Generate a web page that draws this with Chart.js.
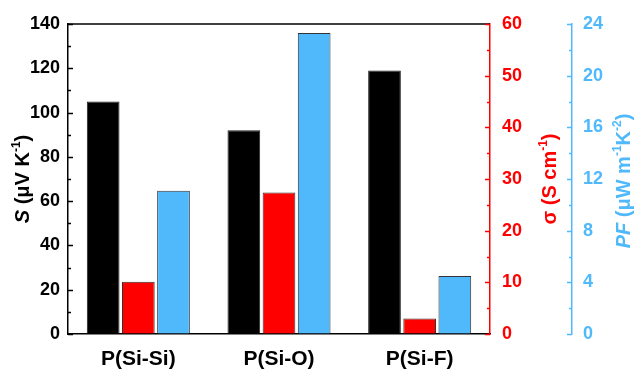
<!DOCTYPE html>
<html>
<head>
<meta charset="utf-8">
<script src="https://cdn.jsdelivr.net/npm/chart.js@4"></script>
<style>
  html, body { margin:0; padding:0; background:#fff; }
  #wrap { width:636px; height:369px; }
</style>
</head>
<body>
<div id="wrap"><canvas id="chart"></canvas></div>
<script>
// data
const polymers = ['P(Si-Si)', 'P(Si-O)', 'P(Si-F)'];
const seebeck = [105, 92, 119];          // S (uV/K), left axis
const conductivity = [10.1, 27.4, 3.0];  // sigma (S/cm), red axis
const powerFactor = [11.1, 23.3, 4.5];   // PF (uW m-1 K-2), blue axis

const sRange = [0, 140, 20];
const sigmaRange = [0, 60, 10];
const pfRange = [0, 24, 4];

const RED = '#ff0000';
const BLUE = '#4fb9fc';
const FONT = "'Liberation Sans', Arial, sans-serif";

// inward ticks, top frame line, rotated titles with superscripts
const decor = {
  id: 'decor',
  afterDraw(chart){
    const c = chart.ctx, a = chart.chartArea;
    const s = chart.scales;
    c.save();
    c.strokeStyle = '#000'; c.lineWidth = 1.5;
    c.beginPath(); c.moveTo(a.left, a.top); c.lineTo(a.right, a.top); c.stroke();

    function ticks(scale, x, dir, range, color){
      c.strokeStyle = color; c.lineWidth = 1.5;
      const half = range[2] / 2;
      for(let v = range[0]; v <= range[1] + 1e-9; v += half){
        const y = Math.round(scale.getPixelForValue(v)) + 0.5;
        const major = Math.abs((v / range[2]) - Math.round(v / range[2])) < 1e-6;
        const len = major ? 5 : 3;
        c.beginPath(); c.moveTo(x, y); c.lineTo(x + dir * len, y); c.stroke();
      }
    }
    ticks(s.y, a.left, 1, sRange, '#000');
    ticks(s.y1, a.right, -1, sigmaRange, RED);
    ticks(s.y2, s.y2.left, -1, pfRange, BLUE);

    function title(cx, cy, parts, color){
      c.save();
      c.translate(cx, cy);
      c.rotate(-Math.PI / 2);
      c.fillStyle = color;
      c.textBaseline = 'middle';
      let w = 0;
      parts.forEach(p => { c.font = p.f; w += c.measureText(p.t).width; });
      let x = -w / 2;
      parts.forEach(p => {
        c.font = p.f;
        c.fillText(p.t, x, p.sup ? -6 : 0);
        x += c.measureText(p.t).width;
      });
      c.restore();
    }
    const B = 'bold 20px ' + FONT, BI = 'italic bold 20px ' + FONT, SUP = 'bold 12px ' + FONT;
    const midY = (a.top + a.bottom) / 2;
    title(s.y.left + 23, midY, [
      {t:'S', f:BI}, {t:' (μV K', f:B}, {t:'-1', f:SUP, sup:true}, {t:')', f:B}
    ], '#000');
    title(s.y1.right - 22, midY, [
      {t:'σ', f:B}, {t:' (S cm', f:B}, {t:'-1', f:SUP, sup:true}, {t:')', f:B}
    ], RED);
    title(s.y2.right - 12, midY + 2, [
      {t:'PF', f:BI}, {t:' (μW m', f:B}, {t:'-1', f:SUP, sup:true}, {t:'K', f:B},
      {t:'-2', f:SUP, sup:true}, {t:')', f:B}
    ], BLUE);
    c.restore();
  }
};

function yAxis(range, position, color, width, pad){
  return {
    position: position,
    min: range[0], max: range[1],
    ticks: { stepSize: range[2], color: color, padding: pad,
             font: { family: FONT, size: 18, weight: 'bold' } },
    grid: { drawOnChartArea: false, drawTicks: false },
    border: { color: color, width: 1.5 },
    afterFit: sc => { sc.width = width; }
  };
}

const yS = yAxis(sRange, 'left', '#000', 68, 8);
const ySigma = yAxis(sigmaRange, 'right', RED, 82, 12);
const yPF = yAxis(pfRange, 'right', BLUE, 64, 11);

new Chart(document.getElementById('chart'), {
  type: 'bar',
  data: {
    labels: polymers,
    datasets: [
      { label: 'S', data: seebeck, yAxisID: 'y',
        backgroundColor: '#000', borderColor: '#222', borderWidth: 1 },
      { label: 'sigma', data: conductivity, yAxisID: 'y1',
        backgroundColor: RED, borderColor: '#333', borderWidth: 1 },
      { label: 'PF', data: powerFactor, yAxisID: 'y2',
        backgroundColor: BLUE, borderColor: '#333', borderWidth: 1 }
    ]
  },
  options: {
    responsive: true,
    maintainAspectRatio: false,
    animation: false,
    layout: { padding: { top: 24, right: 0, left: 0, bottom: 0 } },
    datasets: { bar: { categoryPercentage: 0.75, barPercentage: 0.93 } },
    plugins: { legend: { display: false }, tooltip: { enabled: false } },
    scales: {
      x: {
        ticks: { color: '#000', padding: 13,
                 font: { family: FONT, size: 21, weight: 'bold' } },
        grid: { drawOnChartArea: false, drawTicks: false },
        border: { color: '#000', width: 1.5 },
        afterFit: sc => { sc.height = 35; }
      },
      y: yS,
      y1: ySigma,
      y2: yPF
    }
  },
  plugins: [decor]
});
</script>
</body>
</html>
